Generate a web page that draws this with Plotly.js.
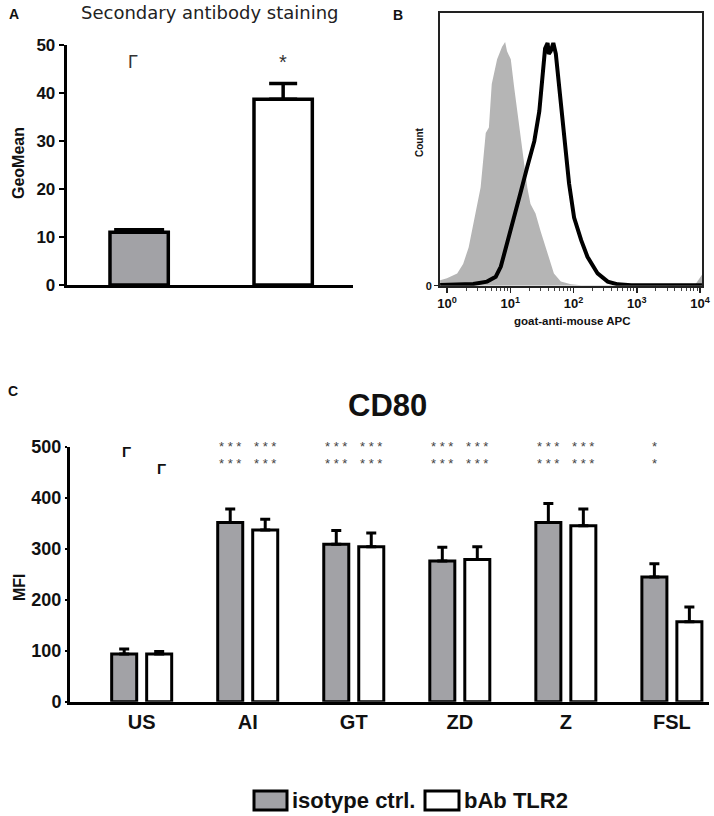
<!DOCTYPE html>
<html>
<head>
<meta charset="utf-8">
<script src="https://cdn.plot.ly/plotly-3.0.1.min.js"></script>
<style>
  html, body { margin: 0; padding: 0; background: #fff; }
  #chart { width: 714px; height: 816px; }
</style>
</head>
<body>
<div id="chart"></div>
<script>
// ---- panel A: secondary antibody staining (GeoMean)
var aGroups = ['isotype ctrl.', 'bAb TLR2'];
var aGeoMean = [11.0, 38.7];
var aErr = [0.5, 3.3];
var aSig = ['Γ', '*'];

// ---- panel B: histogram, goat-anti-mouse APC (x = fluorescence, y = count in % of scale)
var bIsoX = [0.78, 1.0, 1.45, 1.8, 2.2, 2.8, 3.4, 4.1, 4.6, 5.1, 6.2, 7.4, 8.3, 8.9, 10.2, 11.5,
             12.9, 14.5, 16.6, 18.6, 20.9, 25.1, 30.2, 38.9, 49, 63, 91, 132, 3160, 8300, 10700];
var bIsoCount = [2, 2.7, 4.5, 8, 14, 26.5, 36, 56, 58, 74, 83, 87.5, 89.4, 86, 83, 73,
                 64, 55, 46, 36, 30, 26.5, 20, 12, 4.5, 1.5, 0.5, 0.2, 0.2, 0.3, 4];
var bTlrX = [0.78, 2.6, 4.3, 5.9, 7.1, 8.9, 11.5, 14.5, 18.6, 24, 28.8, 32.4, 35.5, 38.9, 40.7,
             43.6, 47.9, 52.5, 58.9, 70.8, 85, 102, 132, 166, 240, 347, 501, 813, 10700];
var bTlrCount = [0.3, 0.6, 1.5, 3.3, 7, 15.5, 24, 34, 43.6, 53, 64, 78, 87, 89, 85,
                 86, 89, 85, 73, 53, 37.5, 25, 16.7, 10.6, 4.5, 1.5, 0.5, 0.2, 0.2];
var bTickVals = [1, 10, 100, 1000, 10000];
var bTickText = ['10<sup>0</sup>', '10<sup>1</sup>', '10<sup>2</sup>', '10<sup>3</sup>', '10<sup>4</sup>'];

// ---- panel C: CD80 MFI
var cCategories = ['US', 'AI', 'GT', 'ZD', 'Z', 'FSL'];
var cIsotype = [93.5, 351.6, 308.5, 275.8, 351.6, 244.4];
var cIsotypeErr = [10, 26, 27, 27, 37, 26];
var cTlr2 = [93.5, 336.6, 304, 279, 345, 156.9];
var cTlr2Err = [5, 21, 27, 25, 33, 29];
var cSigIso1 = ['Γ', '***', '***', '***', '***', '*'];
var cSigIso2 = ['', '***', '***', '***', '***', '*'];
var cSigTlr1 = ['', '***', '***', '***', '***', ''];
var cSigTlr2 = ['Γ', '***', '***', '***', '***', ''];

var GRAY = '#a2a2a6';
var ARIAL = 'Liberation Sans, Arial, sans-serif';
var OFF = 0.165;   // half distance between paired bars in panel C

function px(x) { return x / 714; }
function py(y) { return 1 - y / 816; }

var traces = [];

// panel A bars
[0, 1].forEach(function (i) {
  traces.push({
    type: 'bar', name: aGroups[i], x: [i], y: [aGeoMean[i]], xaxis: 'x', yaxis: 'y',
    width: 0.405, showlegend: false,
    marker: {color: i === 0 ? GRAY : '#ffffff', line: {color: '#000', width: 3.5}},
    error_y: {type: 'data', symmetric: false, array: [aErr[i]], arrayminus: [0],
              color: '#000', thickness: 3.5, width: i === 0 ? 25 : 14}
  });
});

// panel B histograms
traces.push({
  x: bIsoX, y: bIsoCount, xaxis: 'x2', yaxis: 'y2', mode: 'lines', showlegend: false,
  fill: 'tozeroy', fillcolor: '#b5b5b5', line: {color: '#b5b5b5', width: 0}
});
traces.push({
  x: bTlrX, y: bTlrCount, xaxis: 'x2', yaxis: 'y2', mode: 'lines', showlegend: false,
  line: {color: '#000', width: 4}
});

// panel C bars
traces.push({
  type: 'bar', name: 'isotype ctrl.', xaxis: 'x3', yaxis: 'y3', showlegend: false,
  x: cCategories.map(function (c, i) { return i - OFF; }), y: cIsotype, width: 0.236,
  marker: {color: GRAY, line: {color: '#000', width: 3}},
  error_y: {type: 'data', symmetric: false, array: cIsotypeErr,
            arrayminus: cIsotypeErr.map(function () { return 0; }),
            color: '#000', thickness: 3, width: 5}
});
traces.push({
  type: 'bar', name: 'bAb TLR2', xaxis: 'x3', yaxis: 'y3', showlegend: false,
  x: cCategories.map(function (c, i) { return i + OFF; }), y: cTlr2, width: 0.236,
  marker: {color: '#ffffff', line: {color: '#000', width: 3}},
  error_y: {type: 'data', symmetric: false, array: cTlr2Err,
            arrayminus: cTlr2Err.map(function () { return 0; }),
            color: '#000', thickness: 3, width: 5}
});

var annotations = [];
function note(x, y, text, size, opts) {
  var a = {xref: 'paper', yref: 'paper', x: px(x), y: py(y), text: text, showarrow: false,
           xanchor: 'center', yanchor: 'middle',
           font: {family: ARIAL, size: size, color: '#111', weight: 'bold'}};
  for (var k in opts) a[k] = opts[k];
  return a;
}

// panel letters and titles
annotations.push(note(14, 14, 'A', 14));
annotations.push(note(398, 15, 'B', 14));
annotations.push(note(13, 391, 'C', 14));
annotations.push(note(210, 13, 'Secondary antibody staining', 18,
  {font: {family: 'DejaVu Sans, sans-serif', size: 18, color: '#222'}}));
annotations.push(note(388, 405, 'CD80', 31));
annotations.push(note(19, 163, 'GeoMean', 16, {textangle: -90}));
annotations.push(note(19, 587, 'MFI', 16, {textangle: -90}));
annotations.push(note(419, 142, 'Count', 10, {textangle: -90}));
annotations.push(note(572, 321, 'goat-anti-mouse APC', 11.5));

// panel A significance marks
aSig.forEach(function (s, i) {
  annotations.push({
    xref: 'x', yref: 'y', x: i, y: s === '*' ? 46.5 : 46.4, text: s, showarrow: false,
    xshift: s === '*' ? 0 : -6,
    font: {family: ARIAL, size: s === '*' ? 20 : 18, color: '#333'}
  });
});

// panel C significance marks: two rows of stars per bar, corner marks on US
function spaced(s) { return s.split('').join(' '); }
function sigBar(row1, row2, dx) {
  row1.forEach(function (s1, i) {
    var s2 = row2[i];
    var isStar = function (s) { return s && s.charAt(0) === '*'; };
    if (isStar(s1) && isStar(s2)) {
      annotations.push({
        xref: 'x3', yref: 'y3', x: i + dx, y: 484, text: spaced(s1) + '<br>' + spaced(s2),
        showarrow: false, font: {family: ARIAL, size: 13, color: '#444'}
      });
      return;
    }
    [[s1, 490], [s2, 457]].forEach(function (r) {
      if (!r[0]) return;
      annotations.push({
        xref: 'x3', yref: 'y3', x: i + dx, y: r[1], text: r[0], showarrow: false, xshift: 2,
        font: {family: ARIAL, size: 15, color: '#111', weight: 'bold'}
      });
    });
  });
}
sigBar(cSigIso1, cSigIso2, -OFF);
sigBar(cSigTlr1, cSigTlr2, OFF);

// legend drawn by hand (big swatches like in the figure)
var shapes = [
  {type: 'rect', xref: 'paper', yref: 'paper', x0: px(254), x1: px(287), y0: py(810), y1: py(791),
   fillcolor: GRAY, line: {color: '#000', width: 3}},
  {type: 'rect', xref: 'paper', yref: 'paper', x0: px(425), x1: px(459), y0: py(810), y1: py(791),
   fillcolor: '#fff', line: {color: '#000', width: 3}}
];
annotations.push(note(290, 800, 'isotype ctrl.', 22, {xanchor: 'left'}));
annotations.push(note(462, 800, 'bAb TLR2', 22, {xanchor: 'left'}));

var minorVals = [];
[1, 10, 100, 1000].forEach(function (d) {
  for (var k = 2; k <= 9; k++) minorVals.push(k * d);
});

var tickFontA = {family: ARIAL, size: 17, color: '#111', weight: 'bold'};

var layout = {
  width: 714, height: 816,
  margin: {l: 0, r: 0, t: 0, b: 0},
  paper_bgcolor: '#fff', plot_bgcolor: 'rgba(0,0,0,0)',
  showlegend: false,
  barmode: 'overlay',
  xaxis: {domain: [px(66.7), px(353)], range: [-0.503, 1.485], anchor: 'y',
          showline: true, linewidth: 3, linecolor: '#000', showticklabels: false,
          ticks: '', zeroline: false, showgrid: false, fixedrange: true},
  yaxis: {domain: [py(285), py(45)], range: [0, 50], dtick: 10, anchor: 'x',
          showline: true, linewidth: 3, linecolor: '#000', ticks: 'outside',
          ticklen: 5, tickwidth: 2.5, tickcolor: '#000', tickfont: tickFontA,
          zeroline: false, showgrid: false},
  xaxis2: {type: 'log', domain: [px(440), px(702)], range: [-0.11, 4.03], anchor: 'y2',
           showline: true, mirror: true, linewidth: 2, linecolor: '#222',
           tickvals: bTickVals, ticktext: bTickText, ticks: 'outside', ticklen: 5,
           tickwidth: 1.5, tickcolor: '#222',
           tickfont: {family: ARIAL, size: 13, color: '#111', weight: 'bold'},
           minor: {tickvals: minorVals, ticks: 'outside', ticklen: 3, tickwidth: 1, tickcolor: '#444'},
           zeroline: false, showgrid: false},
  yaxis2: {domain: [py(285.7), py(13)], range: [0, 100], anchor: 'x2',
           showline: true, mirror: true, linewidth: 2, linecolor: '#222',
           tickvals: [0], ticktext: ['0'], ticks: 'outside', ticklen: 4, tickcolor: '#222',
           tickfont: {family: ARIAL, size: 11, color: '#111', weight: 'bold'},
           zeroline: false, showgrid: false},
  xaxis3: {domain: [px(70), px(709)], range: [-0.676, 5.35], anchor: 'y3',
           showline: true, linewidth: 3, linecolor: '#000',
           tickvals: cCategories.map(function (c, i) { return i; }), ticktext: cCategories,
           ticks: '', tickfont: {family: ARIAL, size: 20, color: '#111', weight: 'bold'},
           zeroline: false, showgrid: false},
  yaxis3: {domain: [py(701.7), py(446.7)], range: [0, 500], dtick: 100, anchor: 'x3',
           showline: true, linewidth: 3, linecolor: '#000', ticks: 'outside',
           ticklen: 2, tickwidth: 2, tickcolor: '#000',
           tickfont: {family: ARIAL, size: 18, color: '#111', weight: 'bold'},
           zeroline: false, showgrid: false},
  annotations: annotations,
  shapes: shapes
};

Plotly.newPlot('chart', traces, layout, {staticPlot: true, displayModeBar: false});
</script>
</body>
</html>
